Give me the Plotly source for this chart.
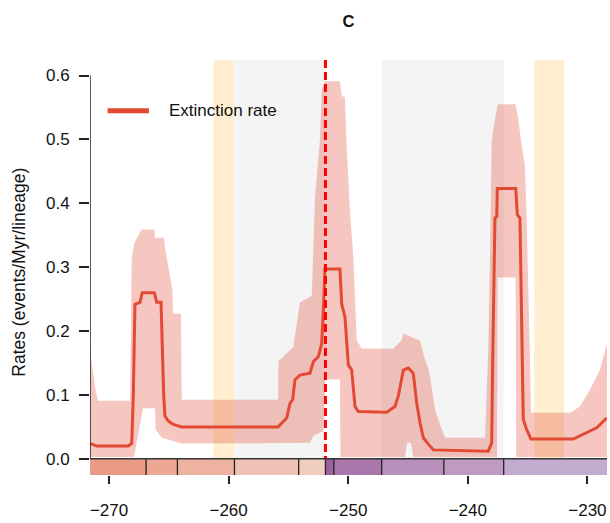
import plotly.graph_objects as go

# Mean extinction rate through time (age in Ma, negative = before present)
rate_age = [-271.59, -271.03, -268.39, -268.10, -267.97, -267.83, -267.41, -267.22,
            -266.21, -266.01, -265.65, -265.57, -265.43, -265.32, -265.04, -264.62,
            -263.92, -255.87, -255.70, -255.14, -254.87, -254.64, -254.45, -254.03,
            -253.19, -252.92, -252.50, -252.22, -252.08, -251.94, -250.69, -250.54,
            -250.27, -250.13, -249.99, -249.71, -249.43, -249.16, -246.78, -246.09,
            -245.81, -245.39, -244.97, -244.56, -244.27, -243.99, -243.72, -243.30,
            -242.88, -238.29, -238.00, -237.92, -237.81, -237.73, -237.58, -237.53,
            -235.99, -235.86, -235.64, -235.36, -235.08, -234.72, -231.18, -230.34,
            -229.22, -228.39]
rate_mean = [0.024, 0.020, 0.020, 0.024, 0.098, 0.242, 0.245, 0.260,
             0.260, 0.245, 0.245, 0.186, 0.100, 0.067, 0.059, 0.054,
             0.050, 0.050, 0.053, 0.064, 0.087, 0.093, 0.124, 0.131,
             0.134, 0.152, 0.160, 0.180, 0.232, 0.297, 0.297, 0.242,
             0.222, 0.190, 0.147, 0.139, 0.082, 0.074, 0.073, 0.082,
             0.098, 0.139, 0.142, 0.134, 0.087, 0.056, 0.033, 0.023,
             0.014, 0.012, 0.025, 0.150, 0.325, 0.377, 0.379, 0.423,
             0.423, 0.382, 0.377, 0.0615, 0.046, 0.031, 0.031, 0.038,
             0.0485, 0.064]

# Upper bound of the credible interval
upper_age = [-271.59, -271.17, -270.94, -268.24, -268.10, -267.88, -267.27, -266.21,
             -266.15, -265.38, -265.32, -264.71, -264.65, -263.98, -263.92, -255.87,
             -255.83, -255.70, -254.59, -254.03, -253.05, -252.92, -252.78, -252.50,
             -252.36, -252.22, -251.94, -250.69, -250.54, -250.27, -250.13, -249.85,
             -249.57, -249.29, -248.87, -246.23, -245.53, -245.39, -244.56, -243.99,
             -243.58, -243.30, -243.02, -242.74, -242.32, -241.91, -238.56, -238.29,
             -238.14, -238.00, -237.87, -237.50, -236.00, -235.78, -235.49, -235.22,
             -235.08, -234.94, -234.80, -234.72, -231.46, -230.62, -229.79, -228.95,
             -228.36]
rate_upper = [0.170, 0.113, 0.091, 0.091, 0.315, 0.338, 0.359, 0.359,
              0.346, 0.346, 0.330, 0.266, 0.227, 0.227, 0.0925, 0.0925,
              0.155, 0.155, 0.175, 0.245, 0.255, 0.335, 0.408, 0.470,
              0.500, 0.576, 0.591, 0.591, 0.568, 0.566, 0.490, 0.387,
              0.315, 0.186, 0.1725, 0.1725, 0.186, 0.196, 0.190, 0.185,
              0.155, 0.142, 0.113, 0.077, 0.054, 0.033, 0.033, 0.170,
              0.325, 0.496, 0.516, 0.555, 0.555, 0.532, 0.490, 0.459,
              0.377, 0.284, 0.155, 0.072, 0.072, 0.082, 0.108, 0.139,
              0.180]

# Lower bound of the credible interval
lower_age = [-271.59, -267.91, -267.16, -266.15, -266.11, -265.59, -263.92, -253.19,
             -252.92, -252.08, -251.94, -250.69, -250.65, -245.25, -245.08, -244.75,
             -244.56, -237.56, -237.50, -236.00, -235.95, -228.36]
rate_lower = [0.003, 0.003, 0.079, 0.079, 0.046, 0.033, 0.024, 0.025,
              0.036, 0.043, 0.124, 0.124, 0.003, 0.003, 0.025, 0.025,
              0.003, 0.003, 0.284, 0.284, 0.003, 0.003]

# Highlighted intervals
gray_spans = [(-259.51, -251.902), (-247.2, -237.0)]
yellow_spans = [(-261.28, -259.51), (-234.44, -231.96)]
boundary_age = -251.902

# Geological stages for the time-scale bar
stage_names = ["Roadian", "Wordian", "Capitanian", "Wuchiapingian", "Changhsingian",
               "Induan", "Olenekian", "Anisian", "Ladinian", "Carnian"]
stage_bounds = [-273.01, -266.9, -264.28, -259.51, -254.14, -251.902,
                -251.2, -247.2, -242.0, -237.0, -227.0]
stage_colors = ["#E99B85", "#ECA893", "#EEB2A1", "#F1C3B6", "#F1CDC0",
                "#9E619F", "#AA76AC", "#B68FBA", "#BF9AC3", "#C3AACF"]

x_ticks = [-270, -260, -250, -240, -230]
y_ticks = [0.0, 0.1, 0.2, 0.3, 0.4, 0.5, 0.6]

X_MIN, X_MAX = -271.59, -228.36
Y_MIN, Y_MAX = -0.0253, 0.6243
LINE_COLOR = "#E34A33"
FONT = "Liberation Sans, Arial, Helvetica, sans-serif"

fig = go.Figure()

# credible interval band
fig.add_trace(go.Scatter(
    x=upper_age + lower_age[::-1],
    y=rate_upper + rate_lower[::-1],
    fill="toself", fillcolor="rgba(227,74,51,0.31)",
    line=dict(width=0), mode="lines", hoverinfo="skip", showlegend=False))

# mean extinction rate
fig.add_trace(go.Scatter(
    x=rate_age, y=rate_mean, mode="lines",
    line=dict(color=LINE_COLOR, width=3), name="Extinction rate",
    showlegend=False))

# Permian-Triassic boundary
fig.add_trace(go.Scatter(
    x=[boundary_age, boundary_age], y=[Y_MAX, 0.0], mode="lines",
    line=dict(color="#FF0000", width=3, dash="8px,4px"),
    hoverinfo="skip", showlegend=False))

shapes = []
for a, b in gray_spans:
    shapes.append(dict(type="rect", xref="x", yref="y", x0=a, x1=b, y0=0, y1=Y_MAX,
                       fillcolor="#F4F4F4", line=dict(width=0), layer="below"))
for a, b in yellow_spans:
    shapes.append(dict(type="rect", xref="x", yref="y", x0=a, x1=b, y0=0, y1=Y_MAX,
                       fillcolor="#FFEFD0", line=dict(width=0), layer="below"))

# time-scale bar
for i, name in enumerate(stage_names):
    x0 = max(stage_bounds[i], X_MIN)
    x1 = min(stage_bounds[i + 1], X_MAX)
    shapes.append(dict(type="rect", xref="x", yref="y", x0=x0, x1=x1, y0=Y_MIN, y1=0,
                       fillcolor=stage_colors[i], line=dict(width=0), layer="above"))
for b in stage_bounds[1:-1]:
    shapes.append(dict(type="line", xref="x", yref="y", x0=b, x1=b, y0=Y_MIN, y1=0,
                       line=dict(color="#222222", width=1.3), layer="above"))

# axis lines
shapes.append(dict(type="line", xref="x", yref="y", x0=X_MIN, x1=X_MAX, y0=0, y1=0,
                   line=dict(color="#333333", width=1.5), layer="above"))
shapes.append(dict(type="line", xref="x", yref="y", x0=X_MIN, x1=X_MIN, y0=0, y1=0.6,
                   line=dict(color="#222222", width=1.5), layer="above"))

# legend entry
shapes.append(dict(type="line", xref="paper", yref="paper", x0=0.034, x1=0.114,
                   y0=0.878, y1=0.878, line=dict(color=LINE_COLOR, width=5),
                   layer="above"))

fig.update_layout(
    width=610, height=523,
    margin=dict(l=90, r=3, t=60, b=44),
    plot_bgcolor="white", paper_bgcolor="white",
    font=dict(family=FONT, size=17, color="#111111"),
    title=dict(text="<b>C</b>", x=0.5, xref="paper", y=1 - 21 / 523,
               xanchor="center", yanchor="middle",
               font=dict(family=FONT, size=16.5, color="#111111")),
    shapes=shapes,
    annotations=[
        dict(text="Extinction rate", xref="paper", yref="paper", x=0.148, y=0.878,
             xanchor="left", yanchor="middle", showarrow=False,
             font=dict(family=FONT, size=17, color="#111111")),
        dict(text="Rates (events/Myr/lineage)", xref="paper", yref="paper",
             x=-0.138, y=0.489, xanchor="center", yanchor="middle", textangle=-90,
             showarrow=False, font=dict(family=FONT, size=17.5, color="#111111")),
    ],
    xaxis=dict(range=[X_MIN, X_MAX], tickvals=x_ticks, ticks="outside", ticklen=8,
               tickwidth=1.5, tickcolor="#222222", showline=False, showgrid=False,
               zeroline=False, ticklabelstandoff=12,
               tickfont=dict(family=FONT, size=17)),
    yaxis=dict(range=[Y_MIN, Y_MAX], tickvals=y_ticks, tickformat=".1f",
               ticks="outside", ticklen=10, tickwidth=1.5, tickcolor="#222222",
               showline=False, showgrid=False, zeroline=False, ticklabelstandoff=6,
               tickfont=dict(family=FONT, size=17)),
)

fig.write_html("out.html")
